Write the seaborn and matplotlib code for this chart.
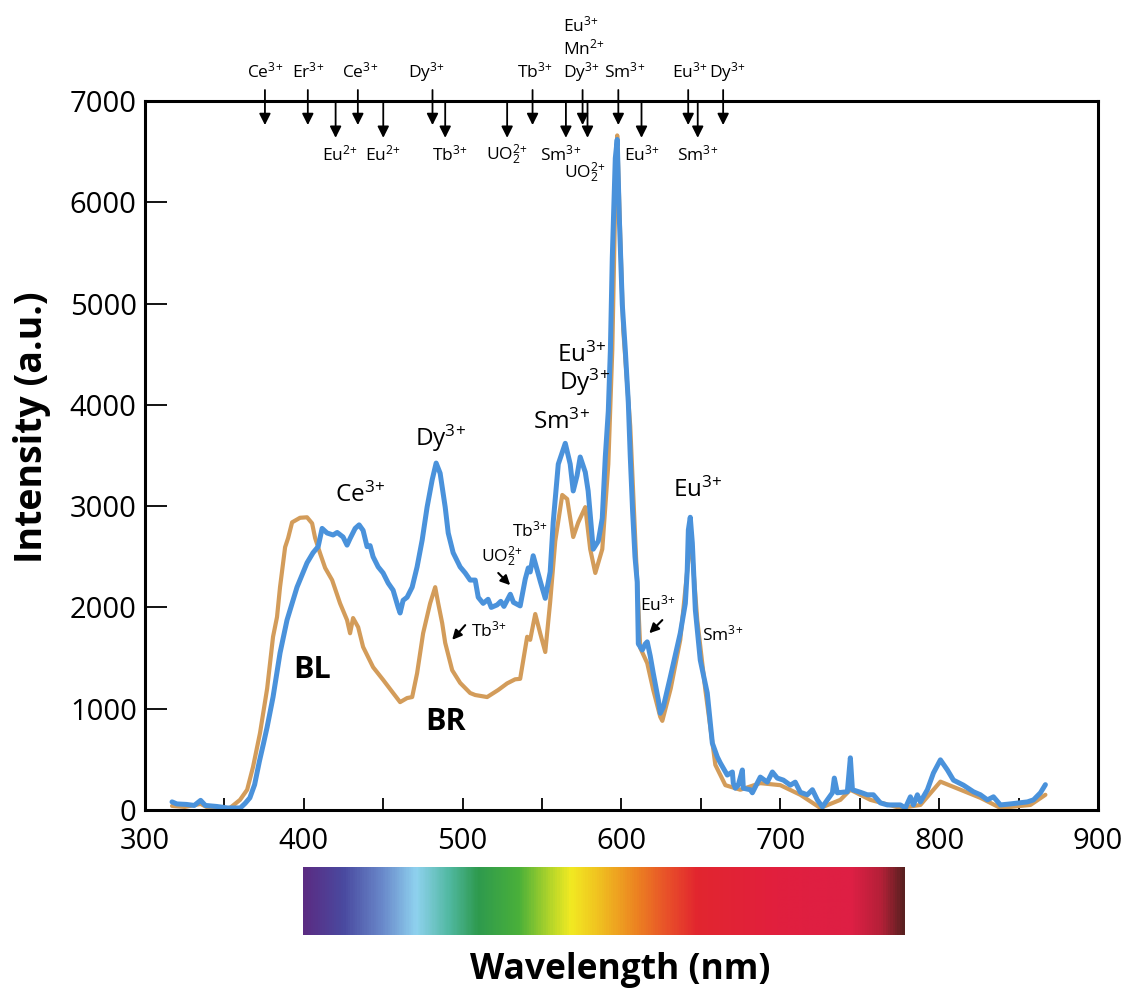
import numpy as np
import pandas as pd
import matplotlib
matplotlib.use("Agg")
import matplotlib.pyplot as plt
import matplotlib.transforms as mtransforms
from matplotlib.colors import LinearSegmentedColormap
import seaborn as sns

# spectra (wavelength nm, intensity a.u.)
blue_nm = [317, 320, 326, 331, 335, 338, 345, 352, 360, 363, 366, 369, 372, 374.5, 376.9, 380.6, 385, 389.4,
           395.7, 402, 405.8, 409, 411.5, 414.6, 418.4, 421, 424.7, 427.2, 429.1, 432.3, 434.8, 437.3, 439.8,
           441.7, 443.6, 446.8, 449.9, 453.1, 456.2, 459.4, 460.6, 462.5, 465, 468.2, 471.3, 474.5, 477.6,
           480.8, 483.3, 485.8, 489, 490.9, 494, 498.4, 501.6, 504.7, 507.9, 509.8, 512.9, 516, 518, 521.7,
           524, 526, 528, 530, 532, 536.2, 539.4, 541.3, 542.5, 544.4, 546.9, 549, 552, 555.1, 557, 560.2,
           564.6, 567.7, 569.6, 572, 574, 577.2, 579, 582.2, 585.4, 587.9, 589.8, 591.7, 593, 594.2, 596.1,
           597.3, 598.6, 600.5, 602.4, 604.3, 605.5, 607, 608.5, 609.9, 610.6, 613.1, 615, 616.2, 618.1, 620,
           623.2, 624.4, 626.3, 630.7, 637, 640.2, 641.4, 642.1, 643.3, 644.6, 646.5, 649.6, 654, 657.2,
           660.3, 662.2, 666.6, 669.8, 670.4, 671.7, 673.5, 676.1, 676.7, 681.1, 682.4, 687.4, 691.8, 695,
           698.1, 701.9, 706.3, 709.4, 712.6, 717, 720.2, 723.3, 726.5, 729.6, 732.8, 734, 735.9, 742.2,
           744.1, 745.4, 750.4, 754.8, 758.6, 763, 767.4, 775.6, 778.7, 781.9, 783.8, 786.3, 788.2, 792.6,
           796.4, 800.8, 805.2, 809, 815.3, 821.6, 826, 830.4, 834.2, 838.6, 844.9, 855.6, 859.4, 863.8, 866.9]
blue_val = [80, 60, 55, 45, 95, 45, 35, 20, 20, 65, 120, 250, 480, 650, 820, 1115, 1550, 1875,
            2200, 2440, 2540, 2600, 2780, 2735, 2715, 2740, 2695, 2615, 2680, 2780, 2815, 2760, 2600,
            2610, 2500, 2400, 2340, 2240, 2170, 2000, 1945, 2070, 2100, 2200, 2400, 2665, 2990,
            3260, 3425, 3325, 2990, 2735, 2540, 2400, 2340, 2270, 2270, 2100, 2040, 2080, 2000, 2025,
            2060, 2010, 2070, 2130, 2050, 2015, 2280, 2390, 2350, 2510, 2370, 2250, 2090, 2350, 2840, 3415,
            3620, 3415, 3150, 3300, 3485, 3335, 3150, 2575, 2655, 2880, 3485, 3940, 4540, 5450, 6435,
            6620, 5860, 4990, 4540, 4020, 3500, 2950, 2500, 2250, 1640, 1580, 1640, 1660, 1520, 1350,
            1085, 955, 1015, 1310, 1745, 2040, 2370, 2765, 2890, 2635, 1975, 1480, 1155, 660,
            525, 465, 345, 375, 265, 215, 245, 395, 215, 200, 170, 325, 275, 375,
            315, 295, 245, 275, 175, 150, 200, 100, 30, 100, 170, 315, 170, 180,
            515, 200, 175, 150, 150, 70, 50, 50, 20, 130, 50, 150, 80, 200,
            365, 495, 395, 295, 245, 180, 150, 100, 130, 50, 60, 80, 100, 170, 250]

tan_nm = [317, 325, 335, 340, 350, 353.5, 359.8, 364.3, 368, 372.4, 376.9, 380.6, 383.1, 385, 388.2, 390.1,
          392.6, 397.6, 402, 405.2, 407.1, 410.2, 413.4, 417.8, 422.8, 427.2, 429.1, 431, 434.2, 437.3,
          443.6, 449.9, 456.2, 460.6, 465, 468.2, 471.3, 475.1, 479.5, 482.7, 484.6, 487.1, 489, 493.4,
          498.4, 504.7, 507.9, 515.4, 522.4, 528, 533, 536.2, 540.6, 542.5, 545.7, 548.8, 552, 555.1,
          558.3, 562.7, 565.8, 569.6, 572.8, 577.2, 580.3, 583.5, 587.9, 591.7, 594.2, 596.1, 597.3,
          599.2, 601.1, 605.5, 608.7, 611.8, 616.2, 620, 624.4, 625.7, 631, 637, 642.1, 643.3, 644.6,
          647.7, 652.8, 659.1, 665.4, 674.8, 687.4, 700, 712.6, 725.2, 737.8, 744.1, 756.7, 775.6,
          788.2, 800.8, 813.4, 826, 838.6, 857.5, 866.9]
tan_val = [40, 30, 60, 20, 10, 20, 100, 200, 425, 760, 1200, 1710, 1905, 2200, 2595, 2685,
           2840, 2885, 2890, 2830, 2685, 2535, 2390, 2270, 2040, 1875, 1745, 1895, 1805, 1610,
           1410, 1285, 1155, 1065, 1105, 1115, 1350, 1745, 2040, 2200, 2040, 1845, 1650, 1380,
           1255, 1155, 1135, 1115, 1185, 1250, 1290, 1295, 1710, 1680, 1935, 1745, 1560, 2055,
           2655, 3110, 3070, 2695, 2840, 2990, 2575, 2340, 2575, 3415, 4540, 6050, 6660,
           5675, 4740, 3790, 2655, 1600, 1450, 1185, 920, 880, 1200, 1680, 2470, 2765, 2520,
           1875, 1185, 445, 245, 200, 265, 245, 150, 20, 100, 200, 100, 20,
           50, 280, 200, 120, 20, 50, 150]

# visible spectrum bar colours
spec_nm = [400, 425, 450, 471, 492, 510, 536, 556, 569, 587, 613, 631, 649, 700, 747, 766, 780]
spec_col = ['#5b2c83', '#4a4aa0', '#6a8acb', '#8fd2ef', '#50b8a0', '#2e9a4e', '#4ab03a', '#b5d62a',
            '#f2ea22', '#f0c020', '#ec7d22', '#e84e2a', '#e2262f', '#e11f3e', '#de1f45', '#b42038', '#5a2020']

# ion markers along the top
top_arrow_nm = [375.5, 402.5, 434, 481, 544, 575.5, 598, 642, 664]
top_text_nm = [375.5, 402.5, 435.4, 477.5, 545.7, 563.3, 602, 643, 666.6]
top_text = ['Ce$^{3\\!+}$', 'Er$^{3\\!+}$', 'Ce$^{3\\!+}$', 'Dy$^{3\\!+}$', 'Tb$^{3\\!+}$', 'Dy$^{3\\!+}$',
            'Sm$^{3\\!+}$', 'Eu$^{3\\!+}$', 'Dy$^{3\\!+}$']
low_arrow_nm = [420, 450, 489, 528, 565, 578.6, 612.6, 648]
low_text_nm = [422.8, 450, 492, 528, 561.4, 577, 612.6, 648]
low_text = ['Eu$^{2\\!+}$', 'Eu$^{2\\!+}$', 'Tb$^{3\\!+}$', 'UO$_2^{2\\!+}$', 'Sm$^{3\\!+}$', 'UO$_2^{2\\!+}$',
            'Eu$^{3\\!+}$', 'Sm$^{3\\!+}$']

df_blue = pd.DataFrame({'nm': blue_nm, 'I': blue_val})
df_tan = pd.DataFrame({'nm': tan_nm, 'I': tan_val})

sns.set_style('ticks')
plt.rcParams['font.family'] = ['Open Sans', 'DejaVu Sans']
plt.rcParams['mathtext.fontset'] = 'custom'
plt.rcParams['mathtext.rm'] = 'Open Sans'
plt.rcParams['mathtext.it'] = 'Open Sans:italic'
plt.rcParams['mathtext.bf'] = 'Open Sans:bold'
for k in ['text.color', 'axes.labelcolor', 'xtick.color', 'ytick.color', 'axes.edgecolor']:
    plt.rcParams[k] = 'black'

fig = plt.figure(figsize=(11.26, 9.89), dpi=100)
ax = fig.add_axes([0.1288, 0.1810, 0.8463, 0.7169])

sns.lineplot(data=df_tan, x='nm', y='I', ax=ax, color='#d39c5a', lw=3.0, estimator=None, sort=False)
sns.lineplot(data=df_blue, x='nm', y='I', ax=ax, color='#4a92db', lw=3.6, estimator=None, sort=False)

ax.set_xlim(300, 900)
ax.set_ylim(0, 7000)
ax.set_xticks(range(300, 901, 100))
ax.set_xticks(range(350, 900, 100), minor=True)
ax.set_yticks(range(0, 7001, 1000))
ax.set_xlabel('')
ax.set_ylabel('')
for s in ax.spines.values():
    s.set_linewidth(2.2)
ax.tick_params(axis='x', which='both', direction='in', length=9, width=1.3, labelsize=21, pad=12)
ax.tick_params(axis='y', direction='in', length=16, width=1.3, labelsize=21, pad=6)

fig.text(0.028, 0.568, 'Intensity (a.u.)', rotation=90, ha='center', va='center',
         fontsize=27, fontweight='bold')
fig.text(0.5506, 0.019, 'Wavelength (nm)', ha='center', va='center', fontsize=25.5, fontweight='bold')

# top markers
trans = mtransforms.blended_transform_factory(ax.transData, ax.transAxes)
arw = dict(arrowstyle='-|>', mutation_scale=17, lw=1.3, color='black', shrinkA=0, shrinkB=0)
for x in top_arrow_nm:
    ax.annotate('', xy=(x, 0.966), xytext=(x, 1.0155), xycoords=trans, textcoords=trans,
                arrowprops=arw, annotation_clip=False)
for x in low_arrow_nm:
    ax.annotate('', xy=(x, 0.948), xytext=(x, 1.0), xycoords=trans, textcoords=trans,
                arrowprops=arw, annotation_clip=False)
for x, t in zip(top_text_nm, top_text):
    ha = 'left' if x == 563.3 else 'center'
    ax.text(x, 1.041, t, transform=trans, ha=ha, va='center', fontsize=12.5, clip_on=False)
ax.text(563.3, 1.074, 'Mn$^{2\\!+}$', transform=trans, ha='left', va='center', fontsize=12.5, clip_on=False)
ax.text(563.3, 1.106, 'Eu$^{3\\!+}$', transform=trans, ha='left', va='center', fontsize=12.5, clip_on=False)
for x, t in zip(low_text_nm, low_text):
    y = 0.898 if x == 577 else 0.924
    ax.text(x, y, t, transform=trans, ha='center', va='center', fontsize=12.5, clip_on=False)

# in-plot labels
big = dict(ha='center', va='center', fontsize=17.5)
ax.text(435.4, 3110, 'Ce$^{3\\!+}$', **big)
ax.text(485.8, 3670, 'Dy$^{3\\!+}$', **big)
ax.text(575, 4490, 'Eu$^{3\\!+}$', **big)
ax.text(576.5, 4225, 'Dy$^{3\\!+}$', **big)
ax.text(562, 3830, 'Sm$^{3\\!+}$', **big)
ax.text(648.3, 3160, 'Eu$^{3\\!+}$', **big)
ax.text(405.2, 1380, 'BL', ha='center', va='center', fontsize=22, fontweight='bold')
ax.text(489, 870, 'BR', ha='center', va='center', fontsize=22, fontweight='bold')

small = dict(ha='center', va='center', fontsize=12.5)
ax.text(542.5, 2760, 'Tb$^{3\\!+}$', **small)
ax.text(525, 2500, 'UO$_2^{2\\!+}$', **small)
ax.text(516.5, 1770, 'Tb$^{3\\!+}$', **small)
ax.text(623.2, 2030, 'Eu$^{3\\!+}$', **small)
ax.text(663.5, 1730, 'Sm$^{3\\!+}$', **small)
arw2 = dict(arrowstyle='-|>', mutation_scale=14, lw=1.5, color='black', shrinkA=0, shrinkB=0)
ax.annotate('', xy=(529.9, 2220), xytext=(522.4, 2340), arrowprops=arw2)
ax.annotate('', xy=(493.4, 1680), xytext=(501.6, 1825), arrowprops=arw2)
ax.annotate('', xy=(617.5, 1745), xytext=(625.7, 1875), arrowprops=arw2)

# visible spectrum strip
cax = fig.add_axes([303 / 1126, 1 - 935 / 989, 602 / 1126, 68 / 989])
cmap = LinearSegmentedColormap.from_list(
    'spec', [((n - 400) / 380, c) for n, c in zip(spec_nm, spec_col)])
cax.imshow(np.linspace(0, 1, 600)[None, :], aspect='auto', cmap=cmap, extent=(400, 780, 0, 1))
cax.axis('off')

fig.savefig('out.png', dpi=100)
